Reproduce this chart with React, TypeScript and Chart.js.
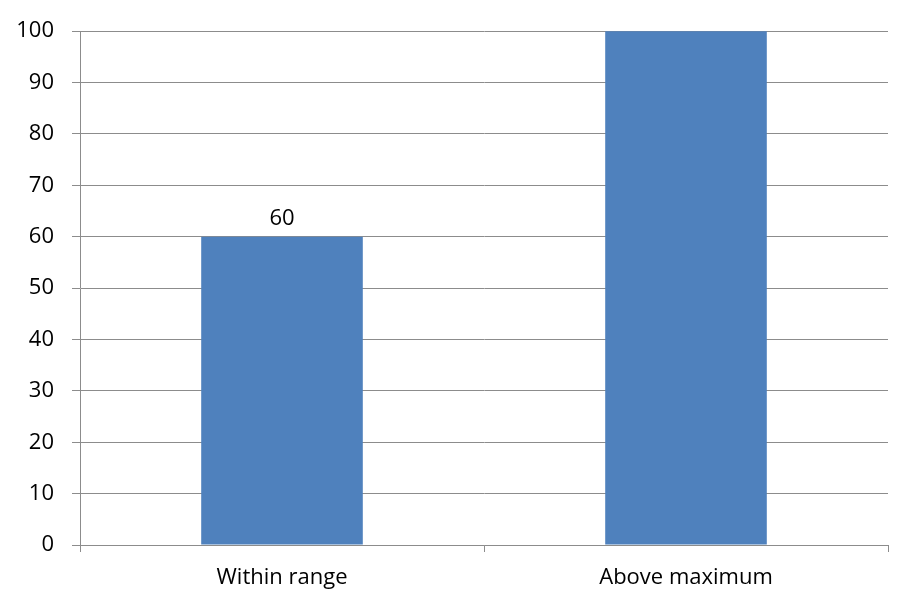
import { useEffect, useRef } from "react"
import { Chart, type ChartConfiguration, type Plugin, registerables } from "chart.js"

Chart.register(...registerables)

const categories = ["Within range", "Above maximum"]
const values = [60, 120]
const yMax = 100
const yStep = 10

const barColor = "#4F81BD"
const gridColor = "#8C8C8C"
const fontFamily = "'Open Sans', 'Noto Sans', sans-serif"
const fontSize = 22

// value labels only for bars that fit inside the axis range
const valueLabels: Plugin<"bar"> = {
  id: "valueLabels",
  afterDatasetsDraw(chart) {
    const { ctx } = chart
    const meta = chart.getDatasetMeta(0)
    ctx.save()
    ctx.font = `${fontSize}px ${fontFamily}`
    ctx.fillStyle = "#000000"
    ctx.textAlign = "center"
    ctx.textBaseline = "bottom"
    meta.data.forEach((bar, i) => {
      const v = values[i]
      if (v > yMax) return
      ctx.fillText(String(v), bar.x, bar.y - 7)
    })
    ctx.restore()
  },
}

export default function App() {
  const chartRef = useRef<HTMLCanvasElement>(null)
  const chartInstance = useRef<Chart | null>(null)

  useEffect(() => {
    if (!chartRef.current) return
    if (chartInstance.current) chartInstance.current.destroy()

    const config: ChartConfiguration<"bar"> = {
      type: "bar",
      data: {
        labels: categories,
        datasets: [
          {
            data: values,
            backgroundColor: barColor,
            borderWidth: 0,
            barPercentage: 0.4,
            categoryPercentage: 1,
          },
        ],
      },
      options: {
        responsive: true,
        maintainAspectRatio: false,
        animation: false,
        layout: { padding: { top: 28, right: 17, left: 0, bottom: 0 } },
        plugins: {
          legend: { display: false },
          tooltip: { enabled: false },
        },
        scales: {
          y: {
            min: 0,
            max: yMax,
            afterFit: (scale) => {
              scale.width = 80
            },
            ticks: {
              stepSize: yStep,
              padding: 18,
              color: "#000000",
              font: { family: fontFamily, size: fontSize },
            },
            grid: {
              color: gridColor,
              lineWidth: 1,
              tickLength: 8,
            },
            border: { color: gridColor, width: 1 },
          },
          x: {
            afterFit: (scale) => {
              scale.height = 59
            },
            ticks: {
              padding: 13,
              color: "#000000",
              font: { family: fontFamily, size: fontSize },
            },
            grid: {
              offset: true,
              drawOnChartArea: false,
              color: gridColor,
              tickLength: 7,
            },
            border: { color: gridColor, width: 1 },
          },
        },
      },
      plugins: [valueLabels],
    }

    chartInstance.current = new Chart(chartRef.current, config)

    return () => {
      if (chartInstance.current) {
        chartInstance.current.destroy()
        chartInstance.current = null
      }
    }
  }, [])

  return (
    <div style={{ position: "absolute", left: 0, top: 0, width: 905, height: 604, background: "#ffffff" }}>
      <canvas ref={chartRef} />
    </div>
  )
}
